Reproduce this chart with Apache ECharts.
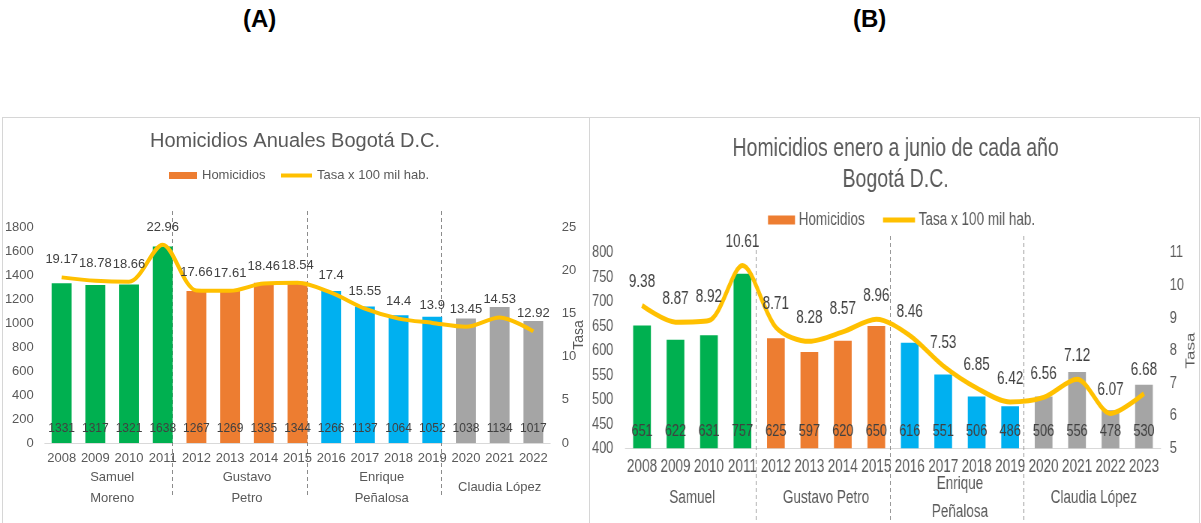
<!DOCTYPE html>
<html>
<head>
<meta charset="utf-8">
<script src="https://cdn.jsdelivr.net/npm/echarts@6/dist/echarts.min.js"></script>
<style>
  html, body { margin: 0; padding: 0; background: #fff; }
  body { width: 1201px; height: 523px; position: relative; overflow: hidden; }
  .frame { position: absolute; border: 1px solid #d6d6d6; box-sizing: border-box; }
  .panel-tag { position: absolute; top: 5px; font: bold 24px 'Liberation Sans', Arial, sans-serif; color: #000; }
  #chartA { position: absolute; left: 0; top: 0; width: 590px; height: 523px; }
  /* panel B is laid out wider and condensed horizontally */
  #chartB { position: absolute; left: 590px; top: 0; height: 523px; transform-origin: 0 0; }
</style>
</head>
<body>
<div class="frame" style="left:2px;top:117px;width:588px;height:430px"></div>
<div class="frame" style="left:589px;top:117px;width:611px;height:430px"></div>
<div class="panel-tag" style="left:243px">(A)</div>
<div class="panel-tag" style="left:853px">(B)</div>
<div id="chartA"></div>
<div id="chartB"></div>
<script>
// ---------- Panel A: homicidios anuales ----------
const yearsA = ['2008', '2009', '2010', '2011', '2012', '2013', '2014', '2015',
                '2016', '2017', '2018', '2019', '2020', '2021', '2022'];
const homicidiosA = [1331, 1317, 1321, 1638, 1267, 1269, 1335, 1344,
                     1266, 1137, 1064, 1052, 1038, 1134, 1017];
const tasaA = [19.17, 18.78, 18.66, 22.96, 17.66, 17.61, 18.46, 18.54,
               17.4, 15.55, 14.4, 13.9, 13.45, 14.53, 12.92];
const alcaldesA = ['Samuel\nMoreno', 'Gustavo\nPetro', 'Enrique\nPeñalosa', 'Claudia López'];
const aniosPorAlcaldeA = [4, 4, 4, 3];
const ticksHomA = [0, 200, 400, 600, 800, 1000, 1200, 1400, 1600, 1800];
const ticksTasaA = [0, 5, 10, 15, 20, 25];

// ---------- Panel B: homicidios enero a junio ----------
const yearsB = ['2008', '2009', '2010', '2011', '2012', '2013', '2014', '2015',
                '2016', '2017', '2018', '2019', '2020', '2021', '2022', '2023'];
const homicidiosB = [651, 622, 631, 757, 625, 597, 620, 650,
                     616, 551, 506, 486, 506, 556, 478, 530];
const tasaB = [9.38, 8.87, 8.92, 10.61, 8.71, 8.28, 8.57, 8.96,
               8.46, 7.53, 6.85, 6.42, 6.56, 7.12, 6.07, 6.68];
const alcaldesB = ['Samuel', 'Gustavo Petro', 'Enrique\nPeñalosa', 'Claudia López'];
const aniosPorAlcaldeB = [4, 4, 4, 4];
const ticksHomB = [400, 450, 500, 550, 600, 650, 700, 750, 800];
const ticksTasaB = [5, 6, 7, 8, 9, 10, 11];

// one colour per mayoral term
const coloresAlcaldia = ['#00B050', '#ED7D31', '#00B0F0', '#A5A5A5'];
const AMARILLO = '#FFC000';
const GRIS_TEXTO = '#595959';
const GRIS_DATO = '#404040';
const SANS = "'Liberation Sans', Arial, sans-serif";

function buildOption(d, s) {
  const n = d.years.length;
  // first year index of each term and the year -> term lookup
  const starts = [];
  let acc = 0;
  d.terms.forEach(t => { starts.push(acc); acc += t; });
  const termOf = i => { let k = 0; while (k + 1 < starts.length && i >= starts[k + 1]) k++; return k; };
  const centers = starts.map((st, k) => st + d.terms[k] / 2);
  const dividers = starts.slice(1).map(v => v + s.dividerShift);
  const gridBottom = s.grid.top + s.grid.height;
  const plain = v => String(v);

  return {
    animation: false,
    textStyle: { fontFamily: SANS },
    title: {
      text: d.title, left: 'center', top: s.titleTop, padding: 0,
      textStyle: { fontFamily: SANS, fontWeight: 'normal', fontSize: s.titleSize,
                   color: GRIS_TEXTO, lineHeight: s.titleLine }
    },
    legend: [
      { data: [{ name: 'Homicidios', icon: 'rect' }], left: s.legHom, top: s.legTop, padding: 0,
        itemWidth: s.legRectW, itemHeight: s.legRectH, selectedMode: false,
        textStyle: { fontSize: s.legSize, color: GRIS_TEXTO } },
      { data: [{ name: 'Tasa x 100 mil hab.', icon: 'rect' }], left: s.legTasa, top: s.legTop, padding: 0,
        itemWidth: s.legLineW, itemHeight: s.legLineH, selectedMode: false,
        textStyle: { fontSize: s.legSize, color: GRIS_TEXTO } }
    ],
    grid: Object.assign({ outerBoundsMode: 'none', containLabel: false }, s.grid),
    xAxis: [
      { type: 'category', data: d.years, boundaryGap: true,
        axisLine: { lineStyle: { color: '#d9d9d9', width: 1 } },
        axisTick: { show: false },
        axisLabel: { color: GRIS_TEXTO, fontSize: s.yearSize, margin: s.yearMargin, interval: 0 } },
      // mayor names under the years
      { type: 'value', min: 0, max: n, position: 'bottom',
        axisLine: { show: false }, axisTick: { show: false }, splitLine: { show: false },
        axisLabel: { customValues: centers, margin: s.termMargin, verticalAlign: 'middle',
                     color: GRIS_TEXTO, fontSize: s.termSize, lineHeight: s.termLine,
                     formatter: v => { const k = centers.findIndex(c => Math.abs(c - v) < 1e-6); return k >= 0 ? d.mayors[k] : ''; } } },
      // dashed term dividers
      { type: 'value', min: 0, max: n, position: 'bottom', offset: s.dividerBottom - gridBottom,
        axisLine: { show: false }, splitLine: { show: false }, axisLabel: { show: false },
        axisTick: { show: true, inside: true, customValues: dividers,
                    length: s.dividerBottom - s.dividerTop,
                    lineStyle: { type: [4, 3], color: '#8c8c8c', width: 1 } } }
    ],
    yAxis: [
      { type: 'value', min: d.ticksHom[0], max: d.ticksHom[d.ticksHom.length - 1],
        interval: d.ticksHom[1] - d.ticksHom[0],
        axisLine: { show: false }, axisTick: { show: false }, splitLine: { show: false },
        axisLabel: { color: GRIS_TEXTO, fontSize: s.tickSize, margin: s.leftMargin, formatter: plain } },
      { type: 'value', min: d.ticksTasa[0], max: d.ticksTasa[d.ticksTasa.length - 1],
        interval: d.ticksTasa[1] - d.ticksTasa[0], position: 'right',
        name: 'Tasa', nameLocation: 'middle', nameGap: s.nameGap, nameMoveOverlap: false,
        nameTextStyle: { color: GRIS_TEXTO, fontSize: s.nameSize },
        axisLine: { show: false }, axisTick: { show: false }, splitLine: { show: false },
        axisLabel: { color: GRIS_TEXTO, fontSize: s.tickSize, margin: s.rightMargin, formatter: plain } }
    ],
    series: [
      { name: 'Homicidios', type: 'bar', xAxisIndex: 0, yAxisIndex: 0,
        barCategoryGap: s.barGap, itemStyle: { color: coloresAlcaldia[1] },
        data: d.hom.map((v, i) => ({ value: v, itemStyle: { color: coloresAlcaldia[termOf(i)] } })),
        label: { show: true, position: 'insideBottom', distance: s.barLabelDist,
                 color: GRIS_DATO, fontSize: s.barLabelSize, formatter: p => String(p.value) },
        z: 2 },
      { name: 'Tasa x 100 mil hab.', type: 'line', xAxisIndex: 0, yAxisIndex: 1,
        data: d.tasa, smooth: 0.3, symbol: 'circle', symbolSize: 0.1,
        itemStyle: { color: AMARILLO }, lineStyle: { color: AMARILLO, width: s.lineW },
        label: { show: true, position: 'top', distance: s.lineLabelDist,
                 color: GRIS_DATO, fontSize: s.lineLabelSize, formatter: p => String(p.value) },
        z: 3 }
    ]
  };
}

const chartA = echarts.init(document.getElementById('chartA'), null, { renderer: 'canvas' });
chartA.setOption(buildOption(
  { title: 'Homicidios Anuales Bogotá D.C.', years: yearsA, hom: homicidiosA, tasa: tasaA,
    mayors: alcaldesA, terms: aniosPorAlcaldeA, ticksHom: ticksHomA, ticksTasa: ticksTasaA },
  { titleSize: 20, titleLine: 24, titleTop: 129,
    grid: { left: 44.8, top: 227, width: 505.4, height: 216 },
    legHom: 169, legTasa: 281, legTop: 169, legSize: 13, legRectW: 28, legRectH: 7, legLineW: 31, legLineH: 4,
    yearSize: 13, yearMargin: 9, termSize: 13, termLine: 21, termMargin: 44.5,
    tickSize: 13, leftMargin: 11, rightMargin: 11.5, nameGap: 22, nameSize: 14,
    barGap: '41%', barLabelDist: 8, barLabelSize: 12, lineLabelDist: 11, lineLabelSize: 13, lineW: 4,
    dividerShift: -0.22, dividerTop: 210, dividerBottom: 495 }
));

// panel B: drawn on a wider canvas, then condensed to its 611px slot
const KB = 0.75;
const boxB = document.getElementById('chartB');
boxB.style.width = (611 / KB) + 'px';
boxB.style.transform = 'scaleX(' + KB + ')';
const chartB = echarts.init(boxB, null, { renderer: 'canvas' });
chartB.setOption(buildOption(
  { title: 'Homicidios enero a junio de cada año\nBogotá D.C.', years: yearsB, hom: homicidiosB, tasa: tasaB,
    mayors: alcaldesB, terms: aniosPorAlcaldeB, ticksHom: ticksHomB, ticksTasa: ticksTasaB },
  { titleSize: 26, titleLine: 31, titleTop: 133,
    grid: { left: 35.3 / KB, top: 252.7, width: 535.4 / KB, height: 195.6 },
    legHom: 178 / KB, legTasa: 293 / KB, legTop: 211, legSize: 18,
    legRectW: 27 / KB, legRectH: 9, legLineW: 32 / KB, legLineH: 5,
    yearSize: 18, yearMargin: 10, termSize: 18, termLine: 28, termMargin: 50,
    tickSize: 17, leftMargin: 12 / KB, rightMargin: 9 / KB, nameGap: 32, nameSize: 17,
    barGap: '47%', barLabelDist: 8, barLabelSize: 17, lineLabelDist: 14, lineLabelSize: 18, lineW: 5,
    dividerShift: -0.09, dividerTop: 236, dividerBottom: 520 }
));
</script>
</body>
</html>
